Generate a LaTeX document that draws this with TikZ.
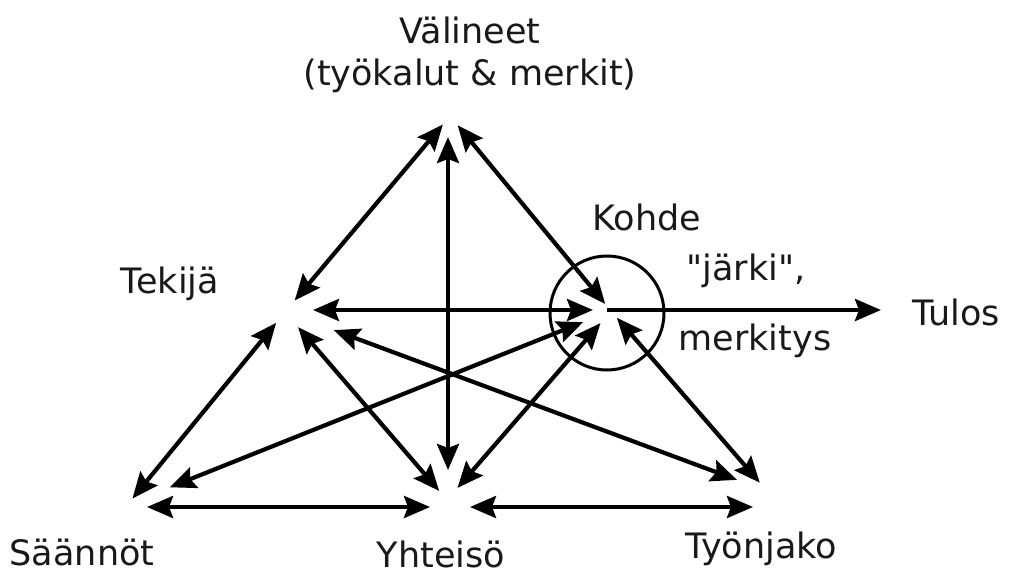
\documentclass[tikz,border=0pt]{standalone}
\usepackage{fontspec}
\setmainfont{DejaVu Sans}[Ligatures=TeXOff]
\usetikzlibrary{arrows.meta}
\begin{document}
\begin{tikzpicture}[x=1pt,y=-1pt,
  lbl/.style={font=\fontsize{35}{42}\selectfont, inner sep=0pt, anchor=base, text=black!90},
  arr/.style={line width=4.2pt, {Stealth[length=26pt,width=22pt,inset=4pt]}-{Stealth[length=26pt,width=22pt,inset=4pt]}},
  oarr/.style={line width=4.2pt, -{Stealth[length=26pt,width=22pt,inset=4pt]}}]
\useasboundingbox (0,0) rectangle (1009,578);
% vertices
\coordinate (V) at (450,116);
\coordinate (T) at (285,312);
\coordinate (K) at (611,311);
\coordinate (S) at (128,504);
\coordinate (Y) at (447,500);
\coordinate (W) at (767,491);
\coordinate (Sb) at (128,507);
\coordinate (Yb) at (449,507);
\coordinate (Wb) at (767,507);
\coordinate (Th) at (285,310);
\coordinate (Kh) at (611,310);
\coordinate (Vv) at (448,116);
\coordinate (Yv) at (448,500);
% labels
\node[lbl, align=center] (val) at (470,85) {Välineet\\(työkalut \& merkit)};
\node[lbl] (kohde) at (647,230) {Kohde};
\node[lbl] (jarki) at (746,280) {"järki",};
\node[lbl] (merk) at (755,350) {merkitys};
\node[lbl] (tulos) at (956,325) {Tulos};
\node[lbl] (tekija) at (170,293) {Tekijä};
\node[lbl] (saannot) at (82,565) {Säännöt};
\node[lbl] (yht) at (441,567) {Yhteisö};
\node[lbl] (tyon) at (761,558) {Työnjako};
\coordinate (tul) at (881,310);
% object circle
\node[circle, draw, line width=3pt, minimum size=114pt, inner sep=0pt] (kc) at (607,313) {};
% connectors
\draw[arr, shorten <=15pt, shorten >=11pt] (T) -- (V);
\draw[arr, shorten <=12pt, shorten >=9pt] (V) -- (K);
\draw[arr, shorten <=21pt, shorten >=30pt] (Vv) -- (Yv);
\draw[arr, shorten <=28pt, shorten >=18pt] (Th) -- (Kh);
\draw[oarr, shorten <=-4pt] (Kh) -- (tul);
\draw[arr, shorten <=14pt, shorten >=7pt] (T) -- (S);
\draw[arr, shorten <=20pt, shorten >=12pt] (T) -- (Y);
\draw[arr, shorten <=52pt, shorten >=32pt] (T) -- (W);
\draw[arr, shorten <=45pt, shorten >=30pt] (S) -- (K);
\draw[arr, shorten <=16pt, shorten >=16pt] (Y) -- (K);
\draw[arr, shorten <=9pt, shorten >=11pt] (K) -- (W);
\draw[arr, shorten <=19pt, shorten >=19pt] (Sb) -- (Yb);
\draw[arr, shorten <=21pt, shorten >=14pt] (Yb) -- (Wb);
\end{tikzpicture}
\end{document}
